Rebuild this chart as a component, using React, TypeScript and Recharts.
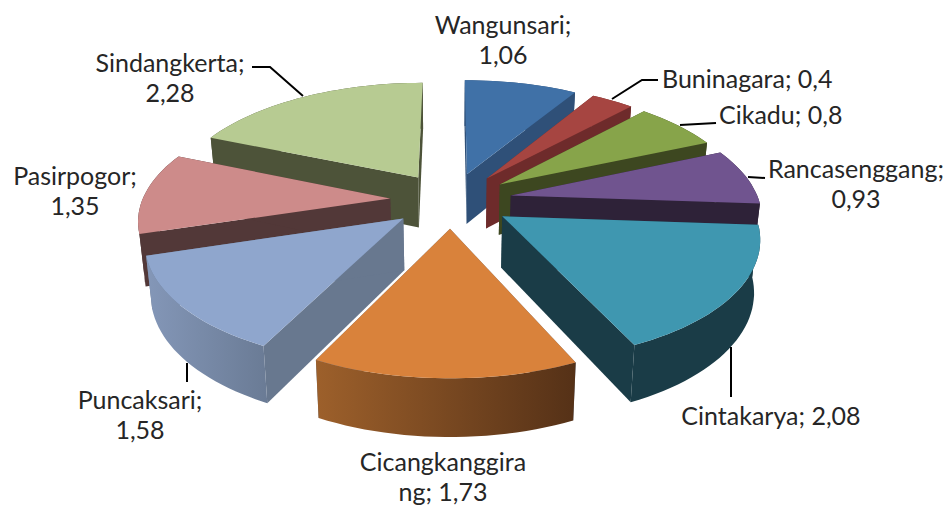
import React from "react";
import { Pie, PieChart } from "recharts";

const districts = [
  "Wangunsari",
  "Buninagara",
  "Cikadu",
  "Rancasenggang",
  "Cintakarya",
  "Cicangkanggirang",
  "Puncaksari",
  "Pasirpogor",
  "Sindangkerta",
];
const values = [1.06, 0.4, 0.8, 0.93, 2.08, 1.73, 1.58, 1.35, 2.28];

const topColors = ["#4071a7", "#a64541", "#87a44a", "#70548f", "#3f97b0", "#d9823b", "#8fa6cd", "#cd8b8a", "#b7cb92"];
const sideColors = ["#2f5078", "#6e2b2b", "#3d4720", "#2e2238", "#1a3c47", "#68788f", "#68788f", "#523838", "#4d5339"];
const rimColors = [
  ["#2f5078", "#2f5078"],
  ["#6e2b2b", "#6e2b2b"],
  ["#3d4720", "#3d4720"],
  ["#2e2238", "#2e2238"],
  ["#1a3c47", "#1a3c47"],
  ["#9d602b", "#553117"],
  ["#8497b8", "#6a7b95"],
  ["#523838", "#523838"],
  ["#4d5339", "#4d5339"],
];

// where each label goes: text lines break at `split`
const labelLayout: Record<string, any> = {
  Wangunsari: { x: 503, y: 34, split: 11, anchor: "middle" },
  Buninagara: { x: 662, y: 88, split: 0, anchor: "start", line: [[612, 99], [642, 80], [658, 80]] },
  Cikadu: { x: 719, y: 124, split: 0, anchor: "start", line: [[680, 125], [716, 123]] },
  Rancasenggang: { x: 856, y: 178, split: 14, anchor: "middle", line: [[748, 177], [765, 178]] },
  Cintakarya: { x: 771, y: 425, split: 0, anchor: "middle", line: [[731, 347], [731, 397]] },
  Cicangkanggirang: { x: 443, y: 471, split: 14, anchor: "middle" },
  Puncaksari: { x: 140, y: 409, split: 11, anchor: "middle", line: [[187, 363], [187, 382]] },
  Pasirpogor: { x: 75, y: 185, split: 11, anchor: "middle" },
  Sindangkerta: { x: 170, y: 72, split: 13, anchor: "middle", line: [[303, 96], [270, 67], [252, 67]] },
};

const rows = districts.map((name, i) => ({ name, value: values[i] }));
const rightSide = districts.slice(0, 5);
const leftSide = districts.slice(5);

const EXPLODE = 61;
const CAMERA = 1630;
const TILT = 0.455;
const WIDTH_SQUASH = 0.972;

const Slice3D = (props: any) => {
  const { cx, cy, outerRadius, startAngle, endAngle, name, only } = props;
  if (!only.includes(name)) return null;
  const idx = districts.indexOf(name);

  let a = 90 - startAngle;
  let b = 90 - endAngle;
  if (a > b) [a, b] = [b, a];
  if (a < 0) {
    a += 360;
    b += 360;
  }
  const rad = (d: number) => (d * Math.PI) / 180;
  const mid = (a + b) / 2;
  const ox = EXPLODE * Math.sin(rad(mid));
  const oy = -EXPLODE * Math.cos(rad(mid));

  // ground plane to screen, with perspective towards the viewer
  const top = (deg: number, r: number) => {
    const X = ox + r * WIDTH_SQUASH * Math.sin(rad(deg));
    const Y = oy - r * Math.cos(rad(deg));
    const s = CAMERA / (CAMERA - Y);
    return { x: cx + X * s, y: cy + TILT * Y * s, s };
  };
  const low = (p: { x: number; y: number; s: number }) => ({
    x: cx + (p.x - cx) * 0.98,
    y: p.y + 32 * p.s + 19,
    s: p.s,
  });
  const d = (pts: { x: number; y: number }[]) =>
    pts.map((p, i) => `${i ? "L" : "M"}${p.x.toFixed(1)},${p.y.toFixed(1)}`).join(" ") + " Z";

  const steps = Math.max(4, Math.ceil((b - a) / 2));
  const arc = [];
  for (let i = 0; i <= steps; i++) arc.push(top(a + ((b - a) * i) / steps, outerRadius));
  const apex = top(a, 0);
  const first = arc[0];
  const last = arc[arc.length - 1];
  const gradId = `rim-${idx}`;

  return (
    <g>
      <defs>
        <linearGradient id={gradId} x1="0" y1="0" x2="1" y2="0">
          <stop offset="0%" stopColor={rimColors[idx][0]} />
          <stop offset="100%" stopColor={rimColors[idx][1]} />
        </linearGradient>
      </defs>
      <path d={d([apex, first, low(first), low(apex)])} fill={sideColors[idx]} />
      <path d={d([apex, last, low(last), low(apex)])} fill={sideColors[idx]} />
      <path d={d([...arc, ...arc.map(low).reverse()])} fill={`url(#${gradId})`} />
      <path d={d([apex, ...arc])} fill={topColors[idx]} />
    </g>
  );
};

const SliceLabel = (props: any) => {
  const { name, value, only } = props;
  if (!only.includes(name)) return null;
  const spec = labelLayout[name];
  const full = `${name}; ${String(value).replace(".", ",")}`;
  const lines = spec.split ? [full.slice(0, spec.split), full.slice(spec.split).trim()] : [full];
  return (
    <g>
      {spec.line && (
        <polyline
          points={spec.line.map((p: number[]) => p.join(",")).join(" ")}
          fill="none"
          stroke="#000"
          strokeWidth={2}
        />
      )}
      <text x={spec.x} y={spec.y} textAnchor={spec.anchor} fontFamily="Lato" fontSize={25} fill="#262626">
        {lines.map((line, i) => (
          <tspan key={i} x={spec.x} dy={i ? 30 : 0}>
            {line}
          </tspan>
        ))}
      </text>
    </g>
  );
};

export default function App() {
  return (
    <div style={{ position: "absolute", left: 0, top: 0, width: 949, height: 506, background: "#fff" }}>
      <PieChart width={949} height={506} margin={{ top: 0, right: 0, bottom: 0, left: 0 }}>
        <Pie
          data={rows}
          dataKey="value"
          nameKey="name"
          cx={451}
          cy={200}
          outerRadius={255}
          startAngle={90}
          endAngle={-270}
          paddingAngle={0}
          stroke="none"
          isAnimationActive={false}
          shape={(p: any) => <Slice3D {...p} only={rightSide} />}
          label={(p: any) => <SliceLabel {...p} only={rightSide} />}
          labelLine={false}
        />
        <Pie
          data={[...rows].reverse()}
          dataKey="value"
          nameKey="name"
          cx={451}
          cy={200}
          outerRadius={255}
          startAngle={90}
          endAngle={450}
          paddingAngle={0}
          stroke="none"
          isAnimationActive={false}
          shape={(p: any) => <Slice3D {...p} only={leftSide} />}
          label={(p: any) => <SliceLabel {...p} only={leftSide} />}
          labelLine={false}
        />
      </PieChart>
    </div>
  );
}
